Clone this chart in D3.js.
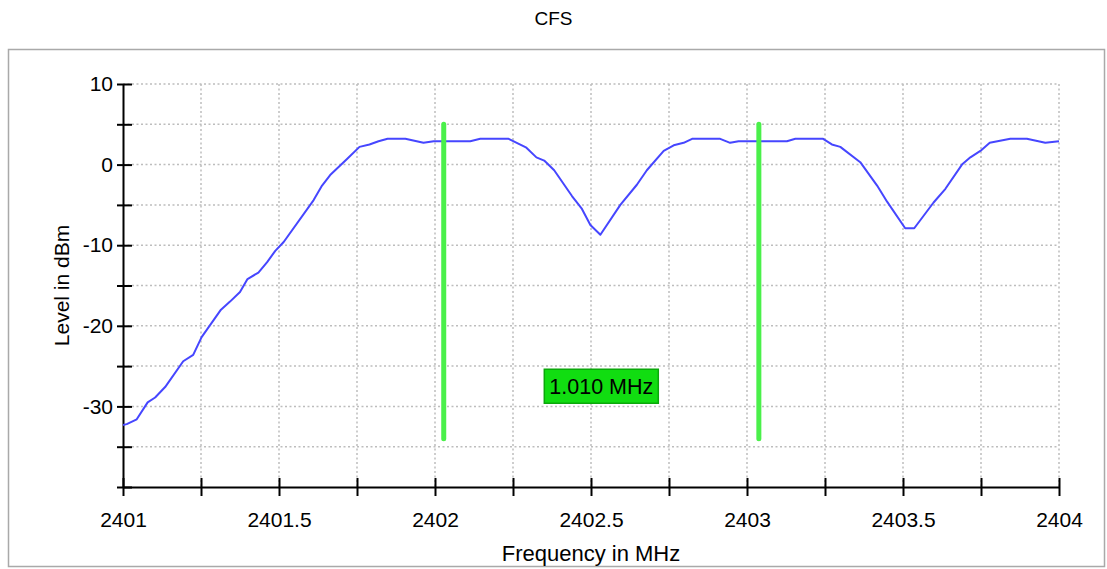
<!DOCTYPE html>
<html>
<head>
<meta charset="utf-8">
<script src="https://cdn.jsdelivr.net/npm/d3@7"></script>
<style>
  html, body { margin: 0; padding: 0; background: #fff; }
  svg { display: block; font-family: "Liberation Sans", Arial, sans-serif; }
</style>
</head>
<body>
<svg id="chart" width="1107" height="569"></svg>
<script>
// Measured trace: frequency (MHz) and level (dBm)
const freqMHz = [
  2401.000, 2401.012, 2401.044, 2401.079, 2401.103, 2401.135, 2401.193, 2401.225,
  2401.252, 2401.314, 2401.343, 2401.375, 2401.399, 2401.434, 2401.462, 2401.488,
  2401.515, 2401.611, 2401.638, 2401.664, 2401.718, 2401.758, 2401.790, 2401.819,
  2401.848, 2401.905, 2401.963, 2401.996, 2402.113, 2402.145, 2402.236, 2402.293,
  2402.325, 2402.350, 2402.382, 2402.439, 2402.471, 2402.498, 2402.530, 2402.594,
  2402.647, 2402.679, 2402.733, 2402.765, 2402.797, 2402.824, 2402.914,
  2402.946, 2402.973, 2403.128, 2403.155, 2403.244, 2403.272, 2403.299, 2403.363,
  2403.417, 2403.449, 2403.507, 2403.536, 2403.598, 2403.636, 2403.689, 2403.716,
  2403.748, 2403.778, 2403.844, 2403.897, 2403.956, 2404.000
];
const levelDBm = [
  -32.3, -32.2, -31.6, -29.5, -28.9, -27.6, -24.4, -23.6,
  -21.4, -18.0, -17.0, -15.8, -14.2, -13.4, -12.1, -10.7,
  -9.6, -4.4, -2.6, -1.3, 0.7, 2.2, 2.5, 2.9,
  3.2, 3.2, 2.7, 2.9, 2.9, 3.2, 3.2, 2.1,
  0.9, 0.5, -0.7, -3.9, -5.5, -7.5, -8.7, -5.0,
  -2.5, -0.7, 1.7, 2.4, 2.7, 3.2, 3.2,
  2.7, 2.9, 2.9, 3.2, 3.2, 2.5, 2.2, 0.3,
  -2.6, -4.6, -7.9, -7.9, -4.7, -3.0, 0.0, 0.9,
  1.7, 2.7, 3.2, 3.2, 2.7, 2.9
];

// Marker positions (MHz) and their vertical extent (dBm)
const markerFreqs = [2402.028, 2403.038];
const markerSpan = [5, -34];
const deltaLabelLevel = -27.5;

// Axis ticks
const xTicks = [2401, 2401.25, 2401.5, 2401.75, 2402, 2402.25, 2402.5, 2402.75, 2403, 2403.25, 2403.5, 2403.75, 2404];
const xTickLabels = ["2401", "", "2401.5", "", "2402", "", "2402.5", "", "2403", "", "2403.5", "", "2404"];
const yTicks = [10, 5, 0, -5, -10, -15, -20, -25, -30, -35, -40];
const yTickLabels = ["10", "", "0", "", "-10", "", "-20", "", "-30", "", ""];

const svg = d3.select("#chart");
const W = 1107, H = 569;
const plot = { left: 123, right: 1059, top: 84, bottom: 487 };

// Outer frame
svg.append("rect")
  .attr("x", 8.5).attr("y", 49.5)
  .attr("width", 1096).attr("height", 517)
  .attr("fill", "#fff")
  .attr("stroke", "#a9a9a9").attr("stroke-width", 1.5);

svg.append("text")
  .attr("x", W / 2).attr("y", 25)
  .attr("text-anchor", "middle")
  .attr("font-size", 19)
  .attr("fill", "#000")
  .text("CFS");

const x = d3.scaleLinear().domain([2401, 2404]).range([plot.left, plot.right]);
const y = d3.scaleLinear().domain([-40, 10]).range([plot.bottom, plot.top]);

// Dotted grid
const grid = svg.append("g")
  .attr("stroke", "#bdbdbd").attr("stroke-width", 1.5)
  .attr("stroke-dasharray", "2,2.5");
grid.selectAll("line.v").data(xTicks.slice(1)).join("line")
  .attr("x1", d => x(d)).attr("x2", d => x(d))
  .attr("y1", plot.top).attr("y2", plot.bottom);
grid.selectAll("line.h").data(yTicks.slice(0, -1)).join("line")
  .attr("y1", d => y(d)).attr("y2", d => y(d))
  .attr("x1", plot.left).attr("x2", plot.right);

// Axes: ticks cross the axis line
const xAxis = d3.axisBottom(x)
  .tickValues(xTicks)
  .tickFormat((d, i) => xTickLabels[i])
  .tickSizeInner(9).tickSizeOuter(0).tickPadding(16);
const gx = svg.append("g").attr("transform", `translate(0,${plot.bottom})`).call(xAxis);
gx.select(".domain").attr("stroke", "#000").attr("stroke-width", 2);
gx.selectAll(".tick line").attr("y1", -9).attr("stroke", "#000").attr("stroke-width", 2);
gx.selectAll(".tick text").attr("font-size", 21).attr("fill", "#000")
  .attr("font-family", "'Liberation Sans', Arial, sans-serif");

const yAxis = d3.axisLeft(y)
  .tickValues(yTicks)
  .tickFormat((d, i) => yTickLabels[i])
  .tickSizeInner(6).tickSizeOuter(0).tickPadding(4);
const gy = svg.append("g").attr("transform", `translate(${plot.left},0)`).call(yAxis);
gy.select(".domain").attr("stroke", "#000").attr("stroke-width", 2);
gy.selectAll(".tick line").attr("x2", 9).attr("x1", -6).attr("stroke", "#000").attr("stroke-width", 2);
gy.selectAll(".tick text").attr("font-size", 21).attr("fill", "#000")
  .attr("font-family", "'Liberation Sans', Arial, sans-serif");

// Axis titles
svg.append("text")
  .attr("x", (plot.left + plot.right) / 2).attr("y", 561)
  .attr("text-anchor", "middle").attr("font-size", 22)
  .text("Frequency in MHz");
svg.append("text")
  .attr("transform", `translate(69,${(plot.top + plot.bottom) / 2}) rotate(-90)`)
  .attr("text-anchor", "middle").attr("font-size", 21)
  .text("Level in dBm");

// Trace
const line = d3.line().x((d, i) => x(freqMHz[i])).y(d => y(d));
svg.append("path")
  .datum(levelDBm)
  .attr("d", line)
  .attr("fill", "none")
  .attr("stroke", "#4646ff").attr("stroke-width", 2)
  .attr("stroke-linejoin", "round");

// Markers
svg.selectAll("line.marker").data(markerFreqs).join("line")
  .attr("class", "marker")
  .attr("x1", d => x(d)).attr("x2", d => x(d))
  .attr("y1", y(markerSpan[0])).attr("y2", y(markerSpan[1]))
  .attr("stroke", "#4af04a").attr("stroke-width", 5)
  .attr("stroke-linecap", "round");

// Delta label between the markers
const delta = markerFreqs[1] - markerFreqs[0];
const cx = x((markerFreqs[0] + markerFreqs[1]) / 2);
const cy = y(deltaLabelLevel);
const bw = 114, bh = 34;
svg.append("rect")
  .attr("x", cx - bw / 2).attr("y", cy - bh / 2)
  .attr("width", bw).attr("height", bh)
  .attr("fill", "#11dd11")
  .attr("stroke", "#0ba80b").attr("stroke-width", 1.5);
svg.append("text")
  .attr("x", cx).attr("y", cy + 7.5)
  .attr("text-anchor", "middle").attr("font-size", 21.5)
  .text(delta.toFixed(3) + " MHz");
</script>
</body>
</html>
